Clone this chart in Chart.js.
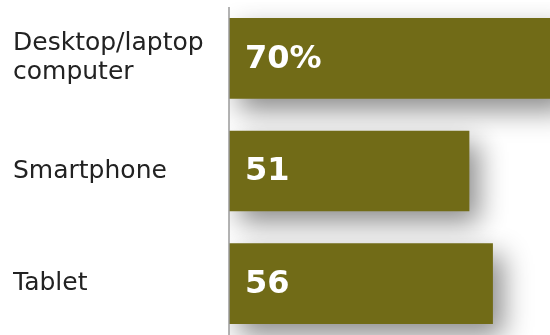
<!DOCTYPE html>
<html>
<head>
<meta charset="utf-8">
<script src="https://cdn.jsdelivr.net/npm/chart.js@4"></script>
<style>
  html, body { margin: 0; padding: 0; background: #fff; overflow: hidden; }
  #wrap { width: 550px; height: 335px; overflow: hidden; }
</style>
</head>
<body>
<div id="wrap"><canvas id="chart" width="550" height="340"></canvas></div>
<script>
const devices = [['Desktop/laptop', 'computer'], 'Smartphone', 'Tablet'];
const shares = [70, 51, 56];
const valueLabels = ['70%', '51', '56'];

const olive = '#716b17';

// soft drop shadow under the bars
const barShadow = {
  id: 'barShadow',
  beforeDatasetsDraw(chart) {
    const ctx = chart.ctx;
    ctx.save();
    ctx.shadowColor = 'rgba(0,0,0,0.45)';
    ctx.shadowBlur = 26;
    ctx.shadowOffsetX = 10;
    ctx.shadowOffsetY = 12;
  },
  afterDatasetsDraw(chart) {
    chart.ctx.restore();
  }
};

// white numbers inside each bar, plus the vertical axis line
const barText = {
  id: 'barText',
  afterDatasetsDraw(chart) {
    const ctx = chart.ctx;
    const area = chart.chartArea;
    ctx.save();
    ctx.strokeStyle = '#9a9a9a';
    ctx.lineWidth = 1.5;
    ctx.beginPath();
    ctx.moveTo(area.left, 7);
    ctx.lineTo(area.left, chart.height);
    ctx.stroke();

    ctx.fillStyle = '#fff';
    ctx.font = 'bold 32px "DejaVu Sans"';
    ctx.textBaseline = 'middle';
    chart.getDatasetMeta(0).data.forEach((bar, i) => {
      ctx.fillText(valueLabels[i], area.left + 16, bar.y + 1);
    });
    ctx.restore();
  }
};

new Chart(document.getElementById('chart'), {
  type: 'bar',
  data: {
    labels: devices,
    datasets: [{
      data: shares,
      backgroundColor: olive,
      borderWidth: 0,
      barThickness: 80
    }]
  },
  options: {
    indexAxis: 'y',
    responsive: false,
    animation: false,
    layout: { padding: { left: 13, top: 2, right: 0, bottom: 0 } },
    plugins: { legend: { display: false }, tooltip: { enabled: false } },
    scales: {
      x: { display: false, min: 0, max: 68.2 },
      y: {
        afterFit(scale) {
          scale.width = 216;
          scale.paddingTop = 0;
          scale.paddingBottom = 0;
        },
        border: { display: false },
        grid: { display: false, drawTicks: false },
        ticks: {
          crossAlign: 'far',
          color: '#222',
          font: { family: '"DejaVu Sans"', size: 25, lineHeight: 1.15 }
        }
      }
    }
  },
  plugins: [barShadow, barText]
});
</script>
</body>
</html>
